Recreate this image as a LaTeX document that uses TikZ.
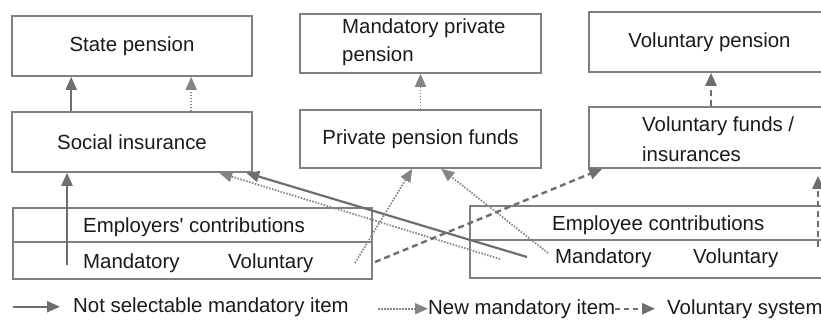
\documentclass[tikz,border=0pt]{standalone}
\usepackage{fontspec}
\setmainfont{Liberation Sans}
\usetikzlibrary{arrows.meta,calc}
\definecolor{boxc}{HTML}{808080}
\definecolor{arrc}{HTML}{6E6E6E}
\definecolor{dotc}{HTML}{858585}
\definecolor{txtc}{HTML}{1A1A1A}
\newcommand\diagfont{\fontsize{20.4}{27}\selectfont}
\tikzset{
  box/.style={draw=boxc, line width=1.6pt, rectangle, inner sep=0pt, text=txtc, font=\diagfont},
  lab/.style={inner sep=0pt, text=txtc, font=\diagfont, anchor=base west},
  tipped/.style={-{Triangle[length=13pt,width=11pt]}},
  solidarr/.style={tipped, draw=arrc, line width=2.2pt},
  dotarr/.style={tipped, draw=dotc, line width=1.8pt, dash pattern=on 1.5pt off 1.5pt},
  dasharr/.style={tipped, draw=arrc, line width=2.4pt, dash pattern=on 6pt off 4pt},
  divider/.style={draw=boxc, line width=1.2pt}
}
\begin{document}
\begin{tikzpicture}[x=1pt,y=-1pt]
\useasboundingbox (0,0) rectangle (821,320);
\clip (0,0) rectangle (821,320);
\fill[white] (0,0) rectangle (821,320);

% top row
\node[box, minimum width=240pt, minimum height=60pt] (sp) at (132,46) {State pension};
\node[box, minimum width=241pt, minimum height=59pt] (mpp) at (420.5,43.5) {};
\node[lab, anchor=north west, align=left, font=\fontsize{20.4}{28}\selectfont] (mppt) at (342,19) {Mandatory private\\pension};
\node[box, minimum width=241pt, minimum height=60pt] (vp) at (709.5,42) {Voluntary pension};

% middle row
\node[box, minimum width=240pt, minimum height=60pt] (si) at (132,142) {Social insurance};
\node[box, minimum width=241pt, minimum height=58pt] (ppf) at (420.5,139) {Private pension funds};
\node[box, minimum width=241pt, minimum height=61pt] (vf) at (709.5,137.5) {};
\node[lab, anchor=north west, align=left, font=\fontsize{20.4}{30}\selectfont] (vft) at (642,117) {Voluntary funds /\\insurances};

% contribution boxes
\node[box, minimum width=359pt, minimum height=71pt] (ec) at (192.5,243.5) {};
\draw[divider] ($(ec.north west)!0.479!(ec.south west)$) -- ($(ec.north east)!0.479!(ec.south east)$);
\node[lab] (ect) at (83,233) {Employers\textquotesingle{} contributions};
\node[lab] (ecm) at (83,268) {Mandatory};
\node[lab] (ecv) at (228,268) {Voluntary};

\node[box, minimum width=380pt, minimum height=72pt] (ee) at (660,242) {};
\draw[divider] ($(ee.north west)!0.472!(ee.south west)$) -- ($(ee.north east)!0.472!(ee.south east)$);
\node[lab] (eet) at (552,230) {Employee contributions};
\node[lab] (eem) at (555,263) {Mandatory};
\node[lab] (eev) at (693,263) {Voluntary};

% vertical arrows between rows
\draw[solidarr] ([xshift=60pt]si.north west) -- ([xshift=60pt]sp.south west);
\draw[dotarr] ([xshift=180pt]si.north west) -- ([xshift=180pt]sp.south west);
\draw[dotarr] (ppf.north) -- (mpp.south);
\draw[dasharr] ([xshift=1.5pt]vf.north) -- ([xshift=1.5pt]vp.south);

% arrows from contributions
\coordinate (a1) at (67,265);
\coordinate (a2) at (527,257);
\coordinate (a3) at (500,259);
\coordinate (a4) at (355,263);
\coordinate (a5) at (548,253);
\coordinate (a6) at (375,262);
\coordinate (a7) at (818,247);
\draw[solidarr] (a1) -- (a1 |- si.south);
\draw[solidarr] (a2) -- ([xshift=235pt]si.south west);
\draw[dotarr] (a3) -- ([xshift=208pt]si.south west);
\draw[dotarr] (a4) -- ([xshift=113pt]ppf.south west);
\draw[dotarr] (a5) -- ([xshift=142pt]ppf.south west);
\draw[dasharr] (a6) -- ([xshift=14pt]vf.south west);
\draw[dasharr] (a7) -- ([yshift=-7pt]a7 |- vf.south);

% legend
\node[lab] (l1) at (73,312) {Not selectable mandatory item};
\node[lab] (l2) at (428,314) {New mandatory item};
\node[lab] (l3) at (667,314) {Voluntary system};
\coordinate (l1s) at (13,0);
\coordinate (l2s) at (378,0);
\coordinate (l3s) at (615,0);
\draw[solidarr] (l1s |- l1.west) -- ([xshift=-13pt]l1.west);
\draw[dotarr] (l2s |- l2.west) -- (l2.west);
\draw[dasharr, dash pattern=on 5pt off 4pt] (l3s |- l3.west) -- ([xshift=-12pt]l3.west);
\end{tikzpicture}
\end{document}
